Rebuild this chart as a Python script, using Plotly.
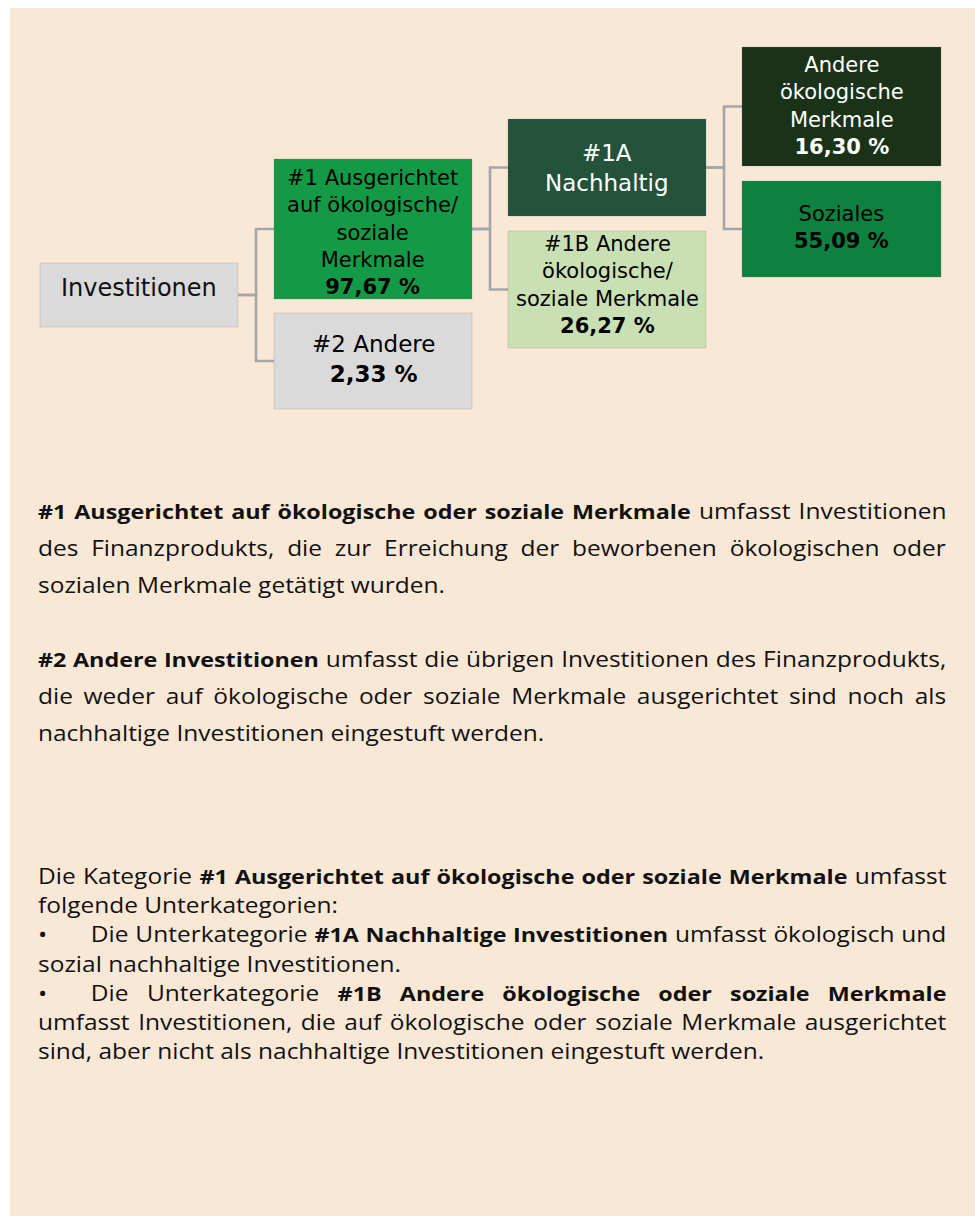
import json
import re
import plotly.graph_objects as go

# ---------------- data ----------------
node_labels = [
    "Investitionen",
    "#1 Ausgerichtet<br>auf ökologische/<br>soziale<br>Merkmale",
    "#2 Andere",
    "#1A<br>Nachhaltig",
    "#1B Andere<br>ökologische/<br>soziale Merkmale",
    "Andere<br>ökologische<br>Merkmale",
    "Soziales",
]
node_shares = [None, 97.67, 2.33, None, 26.27, 16.30, 55.09]
node_parent = [None, 0, 0, 1, 1, 3, 3]

para1 = [
    "<b>#1 Ausgerichtet auf ökologische oder soziale Merkmale</b> umfasst Investitionen",
    "des Finanzprodukts, die zur Erreichung der beworbenen ökologischen oder",
    "sozialen Merkmale getätigt wurden.",
]
para2 = [
    "<b>#2 Andere Investitionen</b> umfasst die übrigen Investitionen des Finanzprodukts,",
    "die weder auf ökologische oder soziale Merkmale ausgerichtet sind noch als",
    "nachhaltige Investitionen eingestuft werden.",
]
para3 = [
    "Die Kategorie <b>#1 Ausgerichtet auf ökologische oder soziale Merkmale</b> umfasst",
    "folgende Unterkategorien:",
    "•|Die Unterkategorie <b>#1A Nachhaltige Investitionen</b> umfasst ökologisch und",
    "sozial nachhaltige Investitionen.",
    "•|Die Unterkategorie <b>#1B Andere ökologische oder soziale Merkmale</b>",
    "umfasst Investitionen, die auf ökologische oder soziale Merkmale ausgerichtet",
    "sind, aber nicht als nachhaltige Investitionen eingestuft werden.",
]
justified = [[True, True, False], [True, True, False],
             [True, False, True, False, True, True, False]]

# ---------------- layout / style ----------------
W, H = 975, 1216
BG = "#fae8d6"
boxes = [  # x0, x1, y0, y1 in pixels
    (40, 238, 263, 327),
    (274, 472, 159, 299),
    (274, 472, 313, 409),
    (508, 706, 119, 216),
    (508, 706, 231, 348),
    (742, 941, 47, 166),
    (742, 941, 181, 277),
]
fills = ["#dadadb", "#149a46", "#dadadb", "#24523a", "#c8e0b4", "#1a3318", "#0e8040"]
font_colors = ["#111", "#000", "#000", "#fff", "#000", "#fff", "#000"]
font_sizes = [24, 21, 23, 23, 21, 21, 21]
text_y = [288, 232, 359, 168, 285, 106, 227]

para_y = [[511, 548, 585], [659, 696, 733]]
para3_center = 964
LEFT, RIGHT = 37, 947
REG, BOLD = 21, 20          # glyph sizes of body text
STRETCH = 24.5 / 21         # horizontal stretch of the body text (as in the reference)
BODY_FONT = "Open Sans"


def style_line(s):
    out = []
    for part in re.split(r"(<b>.*?</b>)", s):
        if not part:
            continue
        size = BOLD if part.startswith("<b>") else REG
        out.append(f'<span style="font-size:{size}px">{part}</span>')
    return "".join(out)


def style_bullet(s):
    if s.startswith("•|"):
        return (f'<span style="font-size:{REG}px">•</span>'
                f'<span style="font-size:18.7px">\u2003\u2003</span>' + style_line(s[2:]))
    return style_line(s)


fig = go.Figure()
fig.add_trace(go.Scatter(x=[0, W], y=[0, H], mode="markers",
                         marker=dict(opacity=0), hoverinfo="skip", showlegend=False))

shapes = [dict(type="rect", x0=10, x1=W, y0=8, y1=H, xref="x", yref="y",
               fillcolor=BG, line=dict(width=0), layer="below")]

for i, p in enumerate(node_parent):
    if p is None:
        continue
    px0, px1, py0, py1 = boxes[p]
    cx0, cx1, cy0, cy1 = boxes[i]
    mid = (px1 + cx0) / 2
    py = (py0 + py1) / 2
    cy = (cy0 + cy1) / 2
    shapes.append(dict(type="path", xref="x", yref="y",
                       path=f"M {px1} {py} L {mid} {py} L {mid} {cy} L {cx0} {cy}",
                       line=dict(color="#a6a6a6", width=2.6)))

for (x0, x1, y0, y1), f in zip(boxes, fills):
    shapes.append(dict(type="rect", xref="x", yref="y", x0=x0, x1=x1, y0=y0, y1=y1,
                       fillcolor=f, line=dict(color="rgba(110,110,110,0.22)", width=1)))

annotations = []
for i, lab in enumerate(node_labels):
    txt = lab
    if node_shares[i] is not None:
        txt += "<br><b>" + f"{node_shares[i]:.2f}".replace(".", ",") + " %</b>"
    x0, x1, y0, y1 = boxes[i]
    annotations.append(dict(x=(x0 + x1) / 2, y=text_y[i], xref="x", yref="y",
                            text=txt, showarrow=False, align="center",
                            xanchor="center", yanchor="middle",
                            font=dict(family="DejaVu Sans", size=font_sizes[i],
                                      color=font_colors[i])))

body = {}
for lines, ys, js in zip([para1, para2], para_y, justified[:2]):
    for line, y, j in zip(lines, ys, js):
        body[len(annotations)] = [0] if j else []
        annotations.append(dict(x=LEFT, y=y, xref="x", yref="y", text=style_line(line),
                                showarrow=False, xanchor="left", yanchor="middle",
                                align="left", borderpad=0,
                                font=dict(family=BODY_FONT, size=REG, color="#111")))

# paragraph 3 as one multi-line block (line pitch = 1.3 * base size)
body[len(annotations)] = [k for k, j in enumerate(justified[2]) if j]
annotations.append(dict(x=LEFT, y=para3_center, xref="x", yref="y",
                        text="<br>".join(style_bullet(s) for s in para3),
                        showarrow=False, xanchor="left", yanchor="middle",
                        align="left", borderpad=0,
                        font=dict(family=BODY_FONT, size=22.5, color="#111")))

fig.update_layout(
    width=W, height=H, margin=dict(l=0, r=0, t=0, b=0),
    paper_bgcolor="white", plot_bgcolor="white",
    xaxis=dict(range=[0, W], visible=False, fixedrange=True),
    yaxis=dict(range=[H, 0], visible=False, fixedrange=True),
    shapes=shapes, annotations=annotations, showlegend=False,
)

post = """
document.body.style.margin='0';
document.body.style.overflow='hidden';
var B = %s;
var RIGHT = %s, S = %s;
var gd = document.getElementById('{plot_id}');
var svgLeft = gd.querySelector('.main-svg').getBoundingClientRect().left;
gd.querySelectorAll('g.annotation').forEach(function(g){
  var idx = g.getAttribute('data-index');
  if(!(idx in B)) return;
  var t = g.querySelector('text');
  var L = t.getBoundingClientRect().left - svgLeft;
  var x0 = t.getBBox().x;
  var ls = t.querySelectorAll('tspan.line');
  var list = ls.length ? Array.prototype.slice.call(ls) : [t];
  var jobs = [];
  B[idx].forEach(function(k){
    var el = list[k]; if(!el) return;
    var n = (el.textContent.match(/ /g)||[]).length; if(!n) return;
    var r = el.getBoundingClientRect();
    var ll = L + S*((r.left - svgLeft) - L);
    var target = RIGHT - ll;
    jobs.push([el, n, r.width, target]);
  });
  jobs.forEach(function(j){
    var el=j[0], n=j[1], w=j[2], target=j[3];
    var ws = (target - S*w)/(S*n);
    el.style.wordSpacing = ws + 'px';
    var w2 = el.getBoundingClientRect().width;
    if(Math.abs(w2 - w) < 0.5 && Math.abs(ws) > 0.5){
      el.style.wordSpacing = '';
      el.setAttribute('textLength', target/S);
      el.setAttribute('lengthAdjust', 'spacing');
    }
  });
  t.setAttribute('transform', 'matrix(' + S + ',0,0,1,' + ((1-S)*x0) + ',0)');
});
""" % (json.dumps({str(k): v for k, v in body.items()}), RIGHT, STRETCH)

fig.write_html("out.html", post_script=post, config={"displayModeBar": False})
